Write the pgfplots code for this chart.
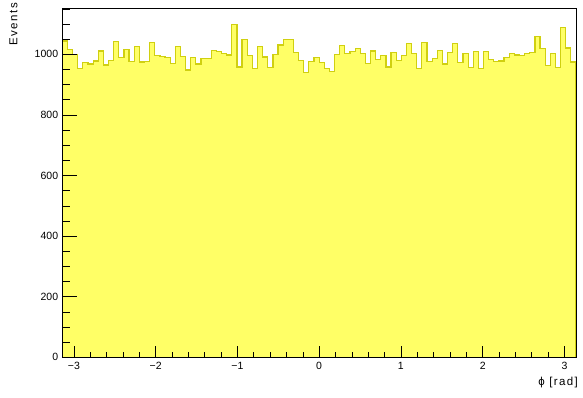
\documentclass[border=0pt]{standalone}
\usepackage{fontspec}
\setmainfont{Liberation Sans}
\newfontfamily\titlefont[LetterSpace=12]{Liberation Sans}
\usepackage{pgfplots}
\pgfplotsset{compat=1.18}
\usepackage{pgfplotstable}

\definecolor{histfill}{RGB}{255,255,102}
\definecolor{histline}{RGB}{208,208,16}

% phi distribution, 100 bins over [-pi, pi]; column i is the bin index
\pgfplotstableread{
i n
0 1044
1 1016
2 1000
3 954
4 973
5 968
6 978
7 1011
8 965
9 980
10 1042
11 989
12 1016
13 976
14 1025
15 975
16 976
17 1038
18 996
19 992
20 989
21 970
22 1027
23 992
24 948
25 989
26 968
27 986
28 986
29 1013
30 1009
31 1004
32 998
33 1099
34 958
35 1050
36 997
37 953
38 1026
39 991
40 956
41 999
42 1031
43 1048
44 1048
45 1007
46 980
47 940
48 977
49 989
50 973
51 954
52 943
53 999
54 1029
55 1003
56 1009
57 1018
58 1003
59 971
60 1011
61 982
62 995
63 958
64 1005
65 979
66 997
67 1035
68 1004
69 954
70 1038
71 977
72 987
73 1014
74 968
75 1005
76 1035
77 972
78 1004
79 956
80 1009
81 952
82 1010
83 982
84 977
85 978
86 990
87 1002
88 998
89 997
90 1003
91 1005
92 1058
93 1019
94 963
95 1002
96 956
97 1089
98 1021
99 975
100 975
}\phidata

\begin{document}
\begin{tikzpicture}[font=\fontsize{10.5}{12}\selectfont]
\path[use as bounding box] (-62.3pt,-40.7pt) rectangle (520.7pt,357.3pt);
\begin{axis}[
  at={(0pt,0pt)}, anchor=south west,
  scale only axis,
  width=513.7pt, height=349pt,
  xmin=-3.14159265, xmax=3.14159265,
  ymin=0, ymax=1152,
  axis line style={black, line width=0.6pt},
  tick pos=left,
  tick align=inside,
  xtick={-3,-2,-1,0,1,2,3},
  xticklabels={−3,−2,−1,0,1,2,3},
  minor xtick={-3,-2.8,...,3.01},
  ytick={0,200,400,600,800,1000},
  minor ytick={0,50,...,1150},
  major tick length=15pt,
  minor tick length=7.5pt,
  major x tick style={yscale=0.72},
  minor x tick style={yscale=0.72},
  every tick/.style={black, line width=0.6pt},
  /pgf/number format/assume math mode=true,
  /pgf/number format/1000 sep={},
  yticklabel style={inner sep=0pt, xshift=-4pt, font=\fontsize{10.5}{12}\selectfont},
  xticklabel style={inner sep=0pt, yshift=-5pt, font=\fontsize{10.5}{12}\selectfont},
  axis on top,
]
\addplot[const plot mark left, fill=histfill, draw=histline, line width=1.2pt]
  table[x expr={-pi+2*pi*\thisrow{i}/100}, y=n] {\phidata} \closedcycle;
\end{axis}
\node[rotate=90, anchor=east, inner sep=0pt, font=\titlefont\fontsize{11.5}{13}\selectfont]
  at (13.5pt-62.3pt,354.3pt) {Events};
\node[anchor=east, inner sep=0pt, font=\titlefont\fontsize{11.5}{13}\selectfont]
  at (578pt-62.3pt,-25.7pt) {ϕ [rad]};
\end{tikzpicture}
\end{document}
